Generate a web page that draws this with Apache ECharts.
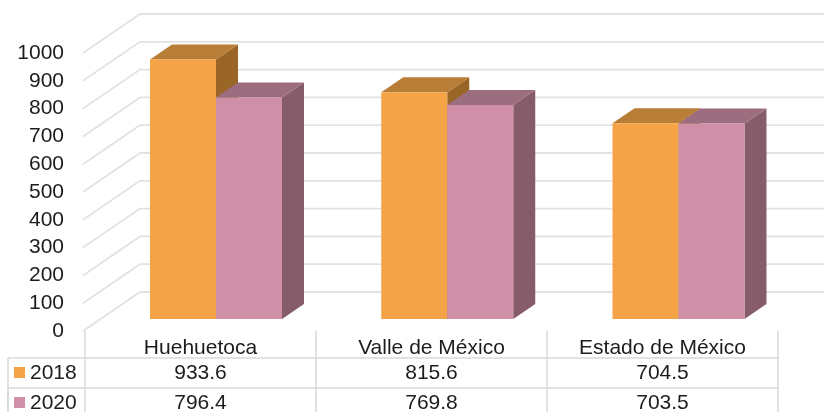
<!DOCTYPE html>
<html><head><meta charset="utf-8">
<style>html,body{margin:0;padding:0;background:#fff}#c{width:824px;height:412px}</style>
<script src="https://cdn.jsdelivr.net/npm/echarts@6/dist/echarts.min.js"></script>
</head><body><div id="c"></div>
<script>
const categories = ['Huehuetoca', 'Valle de México', 'Estado de México'];
const years = ['2018', '2020'];
const values2018 = [933.6, 815.6, 704.5];
const values2020 = [796.4, 769.8, 703.5];
const yTicks = [0, 100, 200, 300, 400, 500, 600, 700, 800, 900, 1000];

const FONT = 'Liberation Sans, Arial, sans-serif';
const TEXT = '#1c1c1c', GRID = '#e2e2e2', RULE = '#d9d9d9';
const COL = {
  2018: {front: '#F4A446', top: '#B87D36', side: '#996628'},
  2020: {front: '#CF8FA6', top: '#9C6D7E', side: '#875C6A'}
};
const chart = echarts.init(document.getElementById('c'), null, {renderer: 'canvas'});

function wall(params, api) {
  const p = api.coord([0, api.value(1)]);
  const x0 = params.coordSys.x - 2, y = p[1];
  return {type: 'polyline', silent: true,
    shape: {points: [[x0, y], [x0 + 57, y - 39], [824, y - 39]]},
    style: {stroke: GRID, lineWidth: 1.8, fill: null}};
}
function bar3d(colour, side) {
  return function (params, api) {
    const top = api.coord([api.value(0), api.value(1)]);
    const base = api.coord([api.value(0), 0]);
    const band = api.size([1, 0])[0];
    const w = band * 66 / 231;
    const cx = top[0] + 15.5 + params.dataIndex * 0.25;
    const x1 = side < 0 ? cx - w : cx, x2 = x1 + w;
    const yt = top[1] - 12, yb = base[1] - 12;
    const dx = 22, dy = 15;
    return {type: 'group', children: [
      {type: 'polygon', shape: {points: [[x2, yt], [x2 + dx, yt - dy], [x2 + dx, yb - dy], [x2, yb]]}, style: {fill: colour.side}},
      {type: 'polygon', shape: {points: [[x1, yt], [x1 + dx, yt - dy], [x2 + dx, yt - dy], [x2, yt]]}, style: {fill: colour.top}},
      {type: 'rect', shape: {x: x1, y: yt, width: w, height: yb - yt}, style: {fill: colour.front}}
    ]};
  };
}
function tableRow(rowY, year) {
  return function (params, api) {
    const p = api.coord([api.value(0), 0]);
    const kids = [{type: 'text', style: {x: p[0], y: rowY, text: String(api.value(1)),
      font: '21px ' + FONT, fill: TEXT, align: 'center', verticalAlign: 'middle'}}];
    if (params.dataIndex === 0) {
      kids.push(
        {type: 'line', shape: {x1: 8, y1: rowY - 15, x2: 778, y2: rowY - 15}, style: {stroke: RULE, lineWidth: 1.5}},
        {type: 'line', shape: {x1: 8, y1: rowY - 15, x2: 8, y2: 412}, style: {stroke: RULE, lineWidth: 1.5}},
        {type: 'rect', shape: {x: 14, y: rowY - 6, width: 11, height: 11}, style: {fill: COL[year].front}},
        {type: 'text', style: {x: 30, y: rowY, text: year, font: '21px ' + FONT, fill: TEXT, align: 'left', verticalAlign: 'middle'}}
      );
    }
    return {type: 'group', children: kids};
  };
}
const pairs = a => a.map((v, i) => [i, v]);

chart.setOption({
  animation: false,
  backgroundColor: '#fff',
  grid: {left: 85, right: 46, top: 53, bottom: 81, containLabel: false},
  xAxis: {type: 'category', data: categories,
    axisLine: {show: false},
    axisTick: {show: true, length: 81, lineStyle: {color: RULE, width: 1.5}},
    axisLabel: {color: TEXT, fontFamily: FONT, fontSize: 21, margin: 7, interval: 0}},
  yAxis: {type: 'value', min: 0, max: 1000, interval: 100,
    axisLine: {show: false}, axisTick: {show: false}, splitLine: {show: false},
    axisLabel: {color: TEXT, fontFamily: FONT, fontSize: 21, margin: 21, formatter: v => String(v)}},
  series: [
    {type: 'custom', name: 'wall', data: yTicks.map(v => [0, v]), renderItem: wall, z: 1},
    {type: 'custom', name: years[0], data: pairs(values2018), renderItem: bar3d(COL[2018], -1), z: 2},
    {type: 'custom', name: years[1], data: pairs(values2020), renderItem: bar3d(COL[2020], 1), z: 3},
    {type: 'custom', name: 'row' + years[0], data: pairs(values2018), renderItem: tableRow(373, years[0]), z: 4},
    {type: 'custom', name: 'row' + years[1], data: pairs(values2020), renderItem: tableRow(403, years[1]), z: 4}
  ]
});
</script></body></html>
